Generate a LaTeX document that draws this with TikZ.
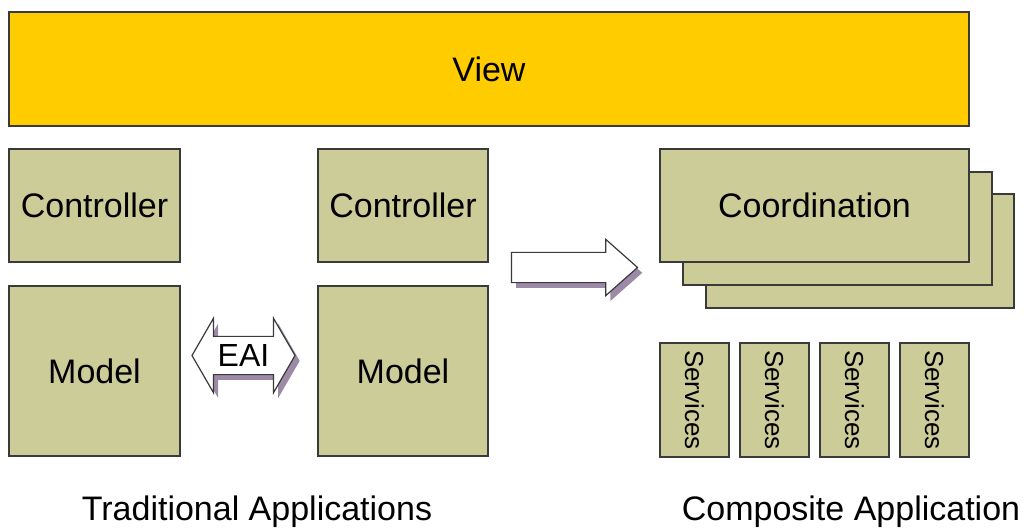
\documentclass[tikz,border=0pt]{standalone}
\usepackage{fontspec}
\setmainfont{Liberation Sans}
\usepackage{xcolor}
\usetikzlibrary{shapes.arrows,shadows,positioning}

\definecolor{viewyellow}{HTML}{FFCC00}
\definecolor{khaki}{HTML}{CCCC99}
\definecolor{edgegray}{HTML}{3A3A3A}
\definecolor{shadowpurple}{HTML}{9C8AA6}

\tikzset{
    box/.style={draw=edgegray, fill=khaki, line width=0.9pt, inner sep=0pt,
        font=\fontsize{25.5}{28}\selectfont},
    svcbox/.style={box, rotate=-90, minimum width=114*0.75pt, minimum height=69*0.75pt,
        font=\fontsize{19.5}{22}\selectfont},
    bigarrow/.style={draw=edgegray, fill=white, line width=0.9pt,
        drop shadow={shadow xshift=3.5pt, shadow yshift=-4pt, fill=shadowpurple, opacity=1}},
    caption/.style={font=\fontsize{25.5}{28}\selectfont}
}

\begin{document}
\begin{tikzpicture}[x=0.75pt, y=-0.75pt]
    \useasboundingbox (0,0) rectangle (1024,531);

    % View
    \node[box, fill=viewyellow, line width=1.1pt, minimum width=960*0.75pt, minimum height=114*0.75pt]
        (view) at (489,69) {View};

    % Traditional applications
    \node[box, minimum width=171*0.75pt, minimum height=113*0.75pt] (ctrlA) at (94.5,205.5) {Controller};
    \node[box, minimum width=171*0.75pt, minimum height=170*0.75pt] (modelA) at (94.5,371) {Model};
    \node[box, minimum width=170*0.75pt, minimum height=113*0.75pt] (ctrlB) at (403,205.5) {Controller};
    \node[box, minimum width=170*0.75pt, minimum height=170*0.75pt] (modelB) at (403,371) {Model};

    % EAI
    \node[bigarrow, double arrow, double arrow tip angle=120, double arrow head extend=13.5pt,
        minimum height=103*0.75pt, text height=17pt, text depth=0pt, inner ysep=5.4pt, inner xsep=0pt,
        font=\fontsize{24}{26}\selectfont] (eai) at (243.5,355.5) {EAI};

    % Migration arrow
    \node[bigarrow, single arrow, single arrow tip angle=83, single arrow head extend=9.75pt,
        minimum height=126*0.75pt, text height=0pt, text depth=0pt, inner ysep=10.9pt, inner xsep=0pt]
        (migrate) at (566,267.5) {};

    % Coordination stack
    \node[box, minimum width=308*0.75pt, minimum height=114*0.75pt] (coordC) at (860,251) {};
    \node[box, minimum width=309*0.75pt, minimum height=113*0.75pt] (coordB) at (837.5,228.5) {};
    \node[box, minimum width=309*0.75pt, minimum height=113*0.75pt] (coordA) at (814.5,205.5) {Coordination};

    % Services
    \foreach \sx [count=\i] in {694.5,774.5,854.5,934.5}
        \node[svcbox] (svc\i) at (\sx,400) {Services};

    % Captions
    \node[caption] (tradLabel) at (257,512) {Traditional Applications};
    \node[caption] (compLabel) at (851,512) {Composite Application};
\end{tikzpicture}
\end{document}
